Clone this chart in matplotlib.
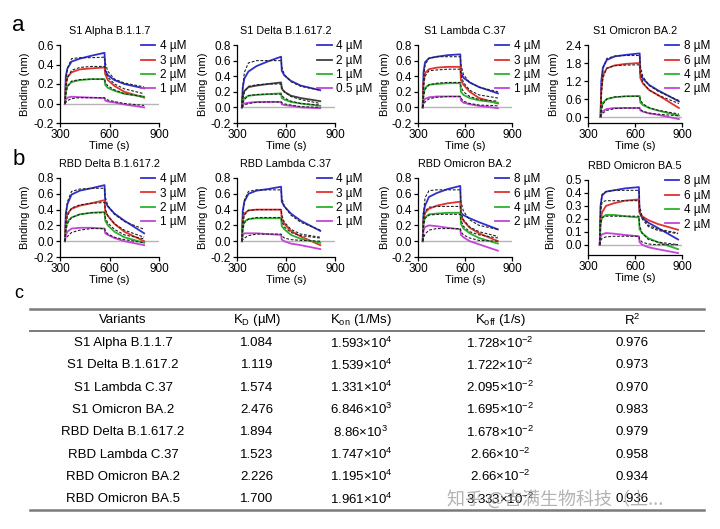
import numpy as np
import matplotlib
matplotlib.use("Agg")
import matplotlib.pyplot as plt
from matplotlib.lines import Line2D

plt.rcParams['font.family'] = ['Liberation Sans', 'DejaVu Sans']
plt.rcParams['axes.unicode_minus'] = False

# time grids (s) for the sensorgrams
t_std = [330, 335, 345, 370, 420, 490, 570, 574, 590, 630, 690, 810]
t_a4 = [380, 385, 395, 420, 470, 540, 630, 634, 650, 690, 750, 880]
t_b4 = [375, 380, 390, 415, 465, 535, 625, 629, 645, 685, 745, 875]

# S1 Alpha B.1.1.7 : 4, 3, 2, 1 uM (measured / fit)
alpha_m4 = [0, 0.28, 0.36, 0.43, 0.46, 0.49, 0.52, 0.34, 0.29, 0.24, 0.20, 0.155]
alpha_f4 = [0, 0.20, 0.36, 0.46, 0.47, 0.47, 0.475, 0.42, 0.33, 0.25, 0.21, 0.17]
alpha_m3 = [0, 0.20, 0.27, 0.32, 0.35, 0.36, 0.37, 0.30, 0.24, 0.18, 0.12, 0.06]
alpha_f3 = [0, 0.14, 0.26, 0.34, 0.37, 0.38, 0.38, 0.34, 0.27, 0.20, 0.15, 0.10]
alpha_m2 = [0, 0.13, 0.18, 0.22, 0.24, 0.25, 0.25, 0.19, 0.16, 0.13, 0.10, 0.07]
alpha_f2 = [0, 0.09, 0.17, 0.23, 0.245, 0.25, 0.25, 0.22, 0.18, 0.14, 0.10, 0.07]
alpha_m1 = [0, 0.04, 0.06, 0.07, 0.065, 0.06, 0.055, 0.03, 0.02, 0.01, -0.01, -0.04]
alpha_f1 = [0, 0.01, 0.03, 0.05, 0.06, 0.06, 0.06, 0.05, 0.035, 0.02, 0.0, -0.02]

# S1 Delta B.1.617.2 : 4, 2, 1, 0.5 uM
delta_m4 = [0, 0.25, 0.37, 0.46, 0.53, 0.59, 0.65, 0.47, 0.41, 0.34, 0.28, 0.22]
delta_f4 = [0, 0.25, 0.45, 0.57, 0.60, 0.60, 0.60, 0.52, 0.42, 0.33, 0.27, 0.22]
delta_m2 = [0, 0.14, 0.21, 0.26, 0.28, 0.30, 0.32, 0.24, 0.20, 0.15, 0.12, 0.08]
delta_f2 = [0, 0.10, 0.20, 0.27, 0.29, 0.30, 0.30, 0.26, 0.20, 0.14, 0.10, 0.05]
delta_m1 = [0, 0.08, 0.12, 0.15, 0.16, 0.17, 0.18, 0.12, 0.10, 0.07, 0.05, 0.02]
delta_f1 = [0, 0.05, 0.10, 0.15, 0.165, 0.17, 0.17, 0.15, 0.12, 0.08, 0.05, 0.03]
delta_m05 = [0, 0.03, 0.05, 0.06, 0.07, 0.07, 0.07, 0.04, 0.03, 0.02, 0.0, -0.01]
delta_f05 = [0, 0.01, 0.03, 0.05, 0.065, 0.07, 0.07, 0.06, 0.045, 0.03, 0.01, 0.0]

# S1 Lambda C.37 : 4, 3, 2, 1 uM
lambda_m4 = [0, 0.45, 0.58, 0.63, 0.65, 0.67, 0.68, 0.45, 0.38, 0.32, 0.26, 0.18]
lambda_f4 = [0, 0.35, 0.55, 0.63, 0.65, 0.65, 0.65, 0.55, 0.42, 0.32, 0.26, 0.20]
lambda_m3 = [0, 0.33, 0.44, 0.49, 0.51, 0.52, 0.52, 0.35, 0.29, 0.20, 0.12, 0.05]
lambda_f3 = [0, 0.25, 0.40, 0.47, 0.48, 0.49, 0.49, 0.42, 0.32, 0.22, 0.16, 0.12]
lambda_m2 = [0, 0.18, 0.25, 0.29, 0.30, 0.31, 0.31, 0.20, 0.16, 0.12, 0.09, 0.06]
lambda_f2 = [0, 0.12, 0.23, 0.29, 0.31, 0.32, 0.32, 0.27, 0.20, 0.14, 0.10, 0.08]
lambda_m1 = [0, 0.07, 0.11, 0.13, 0.14, 0.14, 0.14, 0.09, 0.06, 0.04, 0.02, -0.01]
lambda_f1 = [0, 0.03, 0.07, 0.11, 0.13, 0.14, 0.14, 0.12, 0.08, 0.05, 0.03, 0.02]

# S1 Omicron BA.2 : 8, 6, 4, 2 uM
s1om_m8 = [0, 1.20, 1.65, 1.90, 2.02, 2.07, 2.12, 1.45, 1.28, 1.07, 0.88, 0.52]
s1om_f8 = [0, 0.90, 1.60, 1.95, 2.03, 2.05, 2.05, 1.70, 1.35, 1.05, 0.85, 0.55]
s1om_m6 = [0, 0.90, 1.40, 1.62, 1.72, 1.77, 1.80, 1.30, 1.12, 0.90, 0.72, 0.30]
s1om_f6 = [0, 0.70, 1.30, 1.63, 1.71, 1.73, 1.74, 1.45, 1.15, 0.90, 0.72, 0.45]
s1om_m4 = [0, 0.30, 0.48, 0.60, 0.66, 0.69, 0.70, 0.48, 0.40, 0.30, 0.21, 0.05]
s1om_f4 = [0, 0.20, 0.42, 0.60, 0.67, 0.69, 0.69, 0.57, 0.44, 0.31, 0.22, 0.10]
s1om_m2 = [0, 0.12, 0.20, 0.27, 0.30, 0.30, 0.30, 0.22, 0.18, 0.12, 0.07, -0.07]
s1om_f2 = [0, 0.06, 0.13, 0.22, 0.28, 0.30, 0.30, 0.25, 0.19, 0.13, 0.09, 0.04]

# RBD Delta B.1.617.2 : 4, 3, 2, 1 uM
rdelta_m4 = [0, 0.35, 0.47, 0.59, 0.64, 0.67, 0.71, 0.50, 0.44, 0.35, 0.26, 0.10]
rdelta_f4 = [0, 0.30, 0.50, 0.63, 0.66, 0.67, 0.67, 0.56, 0.45, 0.34, 0.25, 0.15]
rdelta_m3 = [0, 0.26, 0.35, 0.41, 0.45, 0.48, 0.52, 0.38, 0.32, 0.22, 0.12, 0.0]
rdelta_f3 = [0, 0.18, 0.32, 0.42, 0.46, 0.48, 0.49, 0.41, 0.32, 0.22, 0.14, 0.05]
rdelta_m2 = [0, 0.18, 0.25, 0.30, 0.34, 0.36, 0.37, 0.26, 0.20, 0.12, 0.05, -0.02]
rdelta_f2 = [0, 0.12, 0.22, 0.30, 0.34, 0.36, 0.36, 0.30, 0.23, 0.15, 0.08, 0.03]
rdelta_m1 = [0, 0.08, 0.12, 0.16, 0.17, 0.17, 0.16, 0.10, 0.08, 0.04, 0.0, -0.05]
rdelta_f1 = [0, 0.03, 0.06, 0.11, 0.14, 0.16, 0.16, 0.13, 0.09, 0.05, 0.02, -0.02]

# RBD Lambda C.37 : 4, 3, 2, 1 uM
rlambda_m4 = [0, 0.38, 0.50, 0.60, 0.64, 0.66, 0.69, 0.50, 0.44, 0.35, 0.26, 0.13]
rlambda_f4 = [0, 0.30, 0.52, 0.63, 0.65, 0.65, 0.65, 0.55, 0.44, 0.33, 0.24, 0.14]
rlambda_m3 = [0, 0.28, 0.35, 0.39, 0.40, 0.40, 0.40, 0.28, 0.22, 0.13, 0.06, -0.05]
rlambda_f3 = [0, 0.20, 0.33, 0.39, 0.40, 0.40, 0.40, 0.33, 0.24, 0.15, 0.09, 0.05]
rlambda_m2 = [0, 0.19, 0.25, 0.28, 0.29, 0.29, 0.29, 0.19, 0.15, 0.08, 0.03, -0.02]
rlambda_f2 = [0, 0.13, 0.23, 0.28, 0.30, 0.30, 0.30, 0.25, 0.18, 0.11, 0.07, 0.04]
rlambda_m1 = [0, 0.07, 0.10, 0.10, 0.10, 0.09, 0.08, 0.02, 0.0, -0.03, -0.05, -0.10]
rlambda_f1 = [0, 0.02, 0.04, 0.07, 0.09, 0.09, 0.09, 0.07, 0.04, 0.02, 0.01, 0.0]

# RBD Omicron BA.2 : 8, 6, 4, 2 uM
rba2_m8 = [0, 0.35, 0.45, 0.56, 0.61, 0.66, 0.70, 0.36, 0.33, 0.29, 0.24, 0.15]
rba2_f8 = [0, 0.35, 0.55, 0.64, 0.65, 0.65, 0.65, 0.50, 0.38, 0.27, 0.20, 0.15]
rba2_m6 = [0, 0.28, 0.36, 0.41, 0.45, 0.48, 0.50, 0.33, 0.26, 0.17, 0.10, 0.0]
rba2_f6 = [0, 0.25, 0.38, 0.43, 0.44, 0.44, 0.44, 0.36, 0.27, 0.18, 0.12, 0.06]
rba2_m4 = [0, 0.24, 0.30, 0.34, 0.35, 0.36, 0.36, 0.22, 0.16, 0.10, 0.04, -0.03]
rba2_f4 = [0, 0.18, 0.29, 0.33, 0.34, 0.34, 0.34, 0.27, 0.19, 0.12, 0.08, 0.04]
rba2_m2 = [0, 0.13, 0.18, 0.20, 0.19, 0.17, 0.15, 0.08, 0.05, 0.0, -0.04, -0.12]
rba2_f2 = [0, 0.04, 0.09, 0.14, 0.16, 0.16, 0.16, 0.12, 0.08, 0.04, 0.01, 0.0]

# RBD Omicron BA.5 : 8, 6, 4, 2 uM
rba5_m8 = [0, 0.30, 0.38, 0.41, 0.42, 0.435, 0.445, 0.25, 0.21, 0.17, 0.13, 0.04]
rba5_f8 = [0, 0.30, 0.39, 0.41, 0.42, 0.42, 0.42, 0.30, 0.22, 0.15, 0.12, 0.09]
rba5_m6 = [0, 0.18, 0.25, 0.30, 0.32, 0.34, 0.35, 0.25, 0.22, 0.19, 0.16, 0.115]
rba5_f6 = [0, 0.25, 0.33, 0.34, 0.34, 0.34, 0.34, 0.26, 0.20, 0.14, 0.11, 0.085]
rba5_m4 = [0, 0.17, 0.21, 0.23, 0.23, 0.22, 0.21, 0.12, 0.09, 0.05, 0.02, -0.035]
rba5_f4 = [0, 0.15, 0.21, 0.22, 0.22, 0.22, 0.22, 0.15, 0.09, 0.04, 0.02, 0.0]
rba5_m2 = [0, 0.06, 0.08, 0.09, 0.085, 0.075, 0.065, 0.02, 0.0, -0.02, -0.035, -0.065]
rba5_f2 = [0, 0.03, 0.05, 0.06, 0.065, 0.065, 0.065, 0.04, 0.02, 0.005, 0.0, 0.0]

# table values
variants = ["S1 Alpha B.1.1.7", "S1 Delta B.1.617.2", "S1 Lambda C.37", "S1 Omicron BA.2",
            "RBD Delta B.1.617.2", "RBD Lambda C.37", "RBD Omicron BA.2", "RBD Omicron BA.5"]
kd = ["1.084", "1.119", "1.574", "2.476", "1.894", "1.523", "2.226", "1.700"]
kon_base = ["1.593", "1.539", "1.331", "6.846", "8.86", "1.747", "1.195", "1.961"]
kon_exp = ["4", "4", "4", "3", "3", "4", "4", "4"]
koff_base = ["1.728", "1.722", "2.095", "1.695", "1.678", "2.66", "2.66", "3.333"]
koff_exp = ["-2", "-2", "-2", "-2", "-2", "-2", "-2", "-2"]
r2 = ["0.976", "0.973", "0.970", "0.983", "0.979", "0.958", "0.934", "0.936"]

blue, red, green, purple, grey = '#2f2fd0', '#e0322e', '#2eb02e', '#c244d8', '#404040'
cols4 = [blue, red, green, purple]

fig = plt.figure(figsize=(7.2, 5.29), dpi=100)
W, H = 720.0, 529.0


def panel(px_left, px_right, px_top, px_bottom, title, t, meas, fits, labels, colors,
          ylim, yticks, fmt='%.1f', ylab_x=-0.30):
    ax = fig.add_axes([px_left / W, 1 - px_bottom / H, (px_right - px_left) / W,
                       (px_bottom - px_top) / H])
    ax.hlines(0, t[0] - 10, 900, color='#b5b5b5', lw=1.0, zorder=1)
    for y, c, lab in zip(meas, colors, labels):
        ax.plot(t, y, color=c, lw=1.3, label=lab, zorder=2)
    for y in fits:
        ax.plot(t, y, color='#222222', lw=0.8, ls=(0, (2.5, 1.5)), zorder=3)
    ax.set_xlim(300, 900)
    ax.set_ylim(*ylim)
    ax.set_xticks([300, 600, 900])
    ax.set_yticks(yticks)
    ax.set_yticklabels([fmt % v for v in yticks])
    for s in ['top', 'right']:
        ax.spines[s].set_visible(False)
    for s in ['left', 'bottom']:
        ax.spines[s].set_linewidth(0.9)
    ax.tick_params(labelsize=8.5, length=3, width=0.9, pad=1.5)
    ax.set_title(title, fontsize=7.8, pad=8)
    ax.set_xlabel('Time (s)', fontsize=8, labelpad=0)
    ax.set_ylabel('Binding (nm)', fontsize=8)
    ax.yaxis.set_label_coords(ylab_x, 0.5)
    ax.legend(loc='upper left', bbox_to_anchor=(0.82, 1.06), frameon=False, fontsize=8.5,
              handlelength=1.2, handletextpad=0.4, labelspacing=0.2, borderpad=0,
              borderaxespad=0)
    return ax


yt_06 = [-0.2, 0.0, 0.2, 0.4, 0.6]
yt_08 = [-0.2, 0.0, 0.2, 0.4, 0.6, 0.8]
lab4321 = ['4 µM', '3 µM', '2 µM', '1 µM']
lab8642 = ['8 µM', '6 µM', '4 µM', '2 µM']

# row a
panel(60, 159, 45, 123, 'S1 Alpha B.1.1.7', t_std,
      [alpha_m4, alpha_m3, alpha_m2, alpha_m1], [alpha_f4, alpha_f3, alpha_f2, alpha_f1],
      lab4321, cols4, (-0.2, 0.6), yt_06)
panel(237, 335, 45, 123, 'S1 Delta B.1.617.2', t_std,
      [delta_m4, delta_m2, delta_m1, delta_m05], [delta_f4, delta_f2, delta_f1, delta_f05],
      ['4 µM', '2 µM', '1 µM', '0.5 µM'], [blue, grey, green, purple], (-0.2, 0.8), yt_08)
panel(418, 512, 45, 123, 'S1 Lambda C.37', t_std,
      [lambda_m4, lambda_m3, lambda_m2, lambda_m1], [lambda_f4, lambda_f3, lambda_f2, lambda_f1],
      lab4321, cols4, (-0.2, 0.8), yt_08)
panel(588, 682, 45, 123, 'S1 Omicron BA.2', t_a4,
      [s1om_m8, s1om_m6, s1om_m4, s1om_m2], [s1om_f8, s1om_f6, s1om_f4, s1om_f2],
      lab8642, cols4, (-0.2, 2.4), [0.0, 0.6, 1.2, 1.8, 2.4], ylab_x=-0.31)

# row b
panel(60, 159, 178, 257, 'RBD Delta B.1.617.2', t_std,
      [rdelta_m4, rdelta_m3, rdelta_m2, rdelta_m1], [rdelta_f4, rdelta_f3, rdelta_f2, rdelta_f1],
      lab4321, cols4, (-0.2, 0.8), yt_08)
panel(237, 335, 178, 257, 'RBD Lambda C.37', t_std,
      [rlambda_m4, rlambda_m3, rlambda_m2, rlambda_m1],
      [rlambda_f4, rlambda_f3, rlambda_f2, rlambda_f1],
      lab4321, cols4, (-0.2, 0.8), yt_08)
panel(418, 512, 178, 257, 'RBD Omicron BA.2', t_std,
      [rba2_m8, rba2_m6, rba2_m4, rba2_m2], [rba2_f8, rba2_f6, rba2_f4, rba2_f2],
      lab8642, cols4, (-0.2, 0.8), yt_08)
panel(588, 682, 180, 255, 'RBD Omicron BA.5', t_b4,
      [rba5_m8, rba5_m6, rba5_m4, rba5_m2], [rba5_f8, rba5_f6, rba5_f4, rba5_f2],
      lab8642, cols4, (-0.08, 0.5), [0.0, 0.1, 0.2, 0.3, 0.4, 0.5], ylab_x=-0.34)

# panel letters
fig.text(12 / W, 1 - 31 / H, 'a', fontsize=16)
fig.text(13 / W, 1 - 165 / H, 'b', fontsize=16)
fig.text(14 / W, 1 - 298 / H, 'c', fontsize=13)

# table
def fy(py):
    return 1 - py / H

line_col = '#7a7a7a'
fig.add_artist(Line2D([30 / W, 704 / W], [fy(309), fy(309)], color=line_col, lw=1.8))
fig.add_artist(Line2D([30 / W, 704 / W], [fy(331), fy(331)], color=line_col, lw=1.4))
fig.add_artist(Line2D([30 / W, 704 / W], [fy(510), fy(510)], color=line_col, lw=1.8))

col_x = [123, 257, 361, 500, 632]
headers = ['Variants', r'$\mathregular{K_D}$ (µM)', r'$\mathregular{K_{on}}$ (1/Ms)',
           r'$\mathregular{K_{off}}$ (1/s)', r'$\mathregular{R^2}$']
for x, h in zip(col_x, headers):
    fig.text(x / W, fy(320), h, fontsize=9.5, ha='center', va='center')

for i in range(len(variants)):
    y = fy(343 + 22.3 * i)
    cells = [variants[i], kd[i],
             kon_base[i] + r'×10$\mathregular{^{' + kon_exp[i] + '}}$',
             koff_base[i] + r'×10$\mathregular{^{' + koff_exp[i] + '}}$',
             r2[i]]
    for x, c in zip(col_x, cells):
        fig.text(x / W, y, c, fontsize=9.5, ha='center', va='center')

# watermark
fig.text(447 / W, fy(499), '知乎 @吉满生物科技（上...', fontsize=13, color='#9a9a9a',
         alpha=0.75, va='center', family=['Noto Sans CJK SC', 'DejaVu Sans'])

fig.savefig('out.png', dpi=100)
